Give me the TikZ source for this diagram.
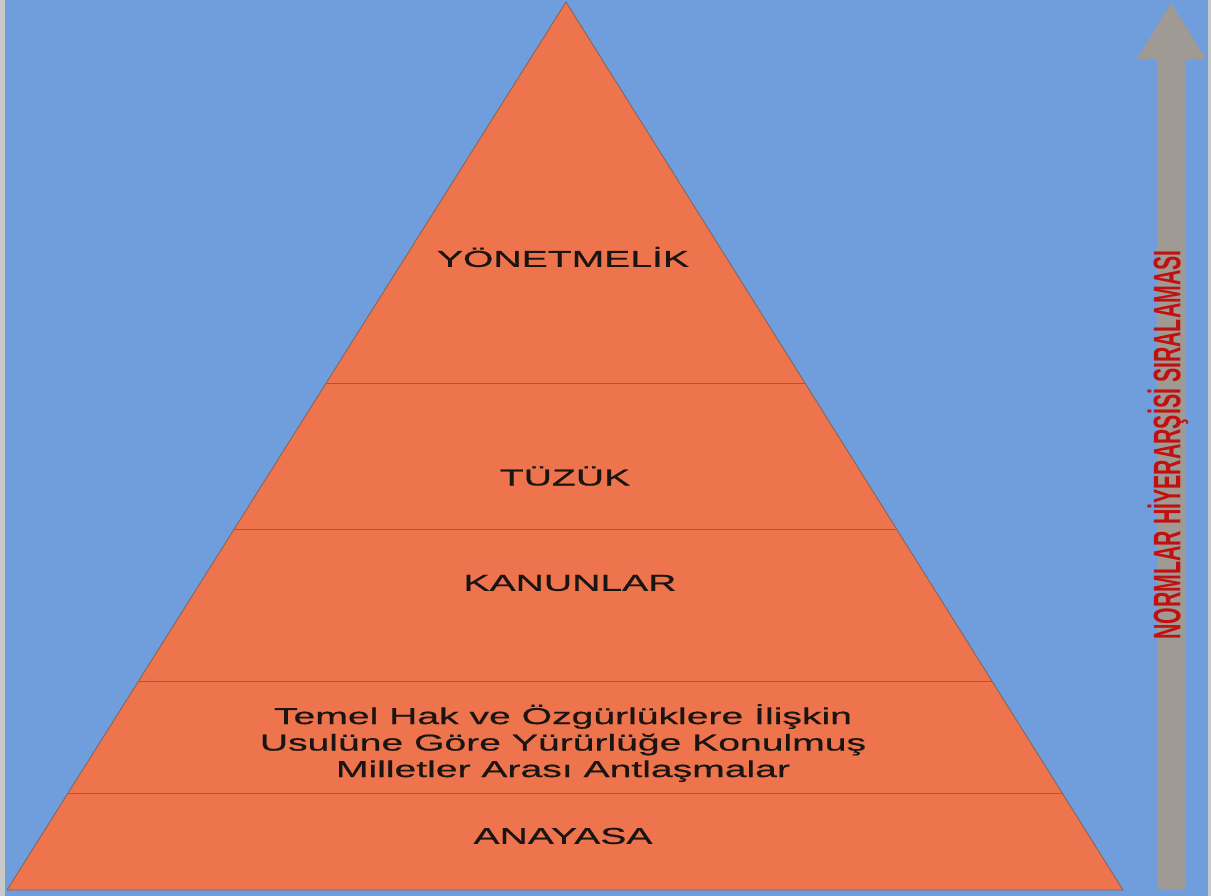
\documentclass[tikz,border=0pt]{standalone}
\usepackage{fontspec}
\usetikzlibrary{calc}
\setmainfont{Liberation Sans}
\setsansfont{Liberation Sans}
\newfontfamily\widefont[FakeStretch=1.7,FakeBold=0.6]{Liberation Sans}
\definecolor{bgblue}{RGB}{112,157,219}
\definecolor{pyr}{RGB}{237,116,76}
\definecolor{pyredge}{RGB}{130,100,92}
\definecolor{sidegray}{RGB}{200,200,200}
\definecolor{arrgray}{RGB}{160,154,148}
\definecolor{labred}{RGB}{192,16,16}
\definecolor{txt}{RGB}{26,20,18}
\begin{document}
\begin{tikzpicture}[x=1pt,y=-1pt,
  lvl/.style={font=\widefont\fontsize{23}{26.5}\selectfont, text=txt, align=center, inner sep=0pt},
  sep/.style={draw=pyredge, line width=0.8pt}]
\useasboundingbox (0,0) rectangle (1211,896);
\fill[bgblue] (0,0) rectangle (1211,896);
\fill[sidegray] (0,0) rectangle (5,896);
\fill[sidegray] (1208,0) rectangle (1211,896);
% arrow
\fill[arrgray] (1157,889) -- (1157,59) -- (1137,59) -- (1171,3) -- (1206,59) -- (1185,59) -- (1185,889) -- cycle;
% pyramid
\coordinate (A) at (566,2);
\coordinate (BL) at (7,890);
\coordinate (BR) at (1123,890);
\filldraw[fill=pyr, draw=pyredge, line width=0.8pt, line join=miter] (A) -- (BL) -- (BR) -- cycle;
\foreach \t/\n in {0.4291/a,0.5935/b,0.7646/c,0.8908/d}{
  \coordinate (L\n) at ($(A)!\t!(BL)$);
  \coordinate (R\n) at ($(A)!\t!(BR)$);
  \draw[sep] (L\n) -- (R\n);
}
\node[lvl] (yon) at (563,257) {YÖNETMELİK};
\node[lvl] (tuz) at (565,476) {TÜZÜK};
\node[lvl] (kan) at (570,583) {KANUNLAR};
\node[lvl] (ant) at (563,743) {Temel Hak ve Özgürlüklere İlişkin\\Usulüne Göre Yürürlüğe Konulmuş\\Milletler Arası Antlaşmalar};
\node[lvl] (ana) at (563,836) {ANAYASA};
\node[rotate=90, inner sep=0pt, text=labred] (norm) at (1168,445)
  {\scalebox{1}[1.8]{\fontsize{21.3}{26}\selectfont\bfseries NORMLAR HİYERARŞİSİ SIRALAMASI}};
\end{tikzpicture}
\end{document}
